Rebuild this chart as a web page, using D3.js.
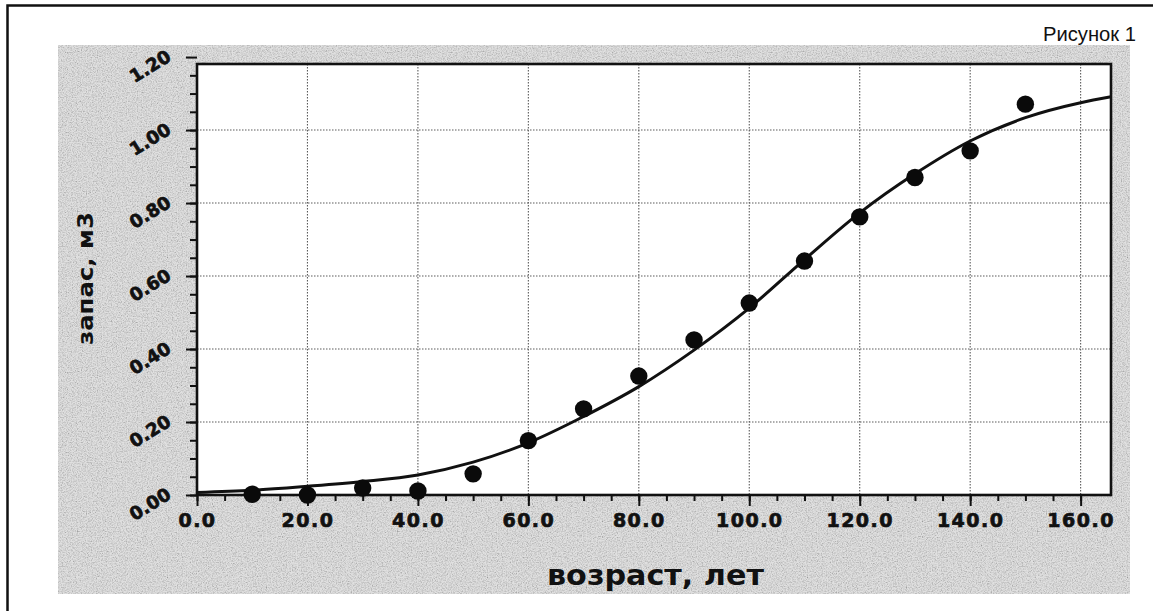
<!DOCTYPE html>
<html>
<head>
<meta charset="utf-8">
<script src="https://cdn.jsdelivr.net/npm/d3@7"></script>
<style>
  body { margin: 0; background: #fff; }
  svg { display: block; }
  .tick text { font-family: "DejaVu Sans", sans-serif; font-weight: bold; }
</style>
</head>
<body>
<div id="chart"></div>
<script>
// data
var ages = [10, 20, 30, 40, 50, 60, 70, 80, 90, 100, 110, 120, 130, 140, 150];
var stock = [0.002, 0.0, 0.019, 0.011, 0.058, 0.149, 0.236, 0.326, 0.425, 0.526, 0.641, 0.762, 0.870, 0.943, 1.071];

// fitted curve, read at 10-year steps
var fitAge = [0, 10, 20, 30, 40, 50, 60, 70, 80, 90, 100, 110, 120, 130, 140, 150, 160, 165.5];
var fitStock = [0.007, 0.013, 0.024, 0.037, 0.055, 0.09, 0.143, 0.215, 0.297, 0.397, 0.512, 0.645, 0.773, 0.88, 0.97, 1.034, 1.075, 1.091];

var xTicks = [0, 20, 40, 60, 80, 100, 120, 140, 160];
var xLabels = ["0.0", "20.0", "40.0", "60.0", "80.0", "100.0", "120.0", "140.0", "160.0"];
var yTicks = [0, 0.2, 0.4, 0.6, 0.8, 1.0, 1.2];
var yLabels = ["0.00", "0.20", "0.40", "0.60", "0.80", "1.00", "1.20"];

var xTitle = "возраст, лет",
  yTitle = "запас, м3",
  figTitle = "Рисунок 1";

// Placement
var W = 1153, H = 611,
  pLeft = 197, pRight = 1111,
  pTop = 64, pBottom = 495;

var x = d3.scaleLinear().domain([0, 165.5]).range([pLeft, pRight]);
var y = d3.scaleLinear().domain([0, 1.181]).range([pBottom, pTop]);

var svg = d3.select("#chart")
  .append("svg")
  .attr("width", W)
  .attr("height", H);

// scanned-paper grain
var defs = svg.append("defs");
var grain = defs.append("filter").attr("id", "grain")
  .attr("x", 0).attr("y", 0).attr("width", 1).attr("height", 1);
grain.append("feTurbulence")
  .attr("type", "fractalNoise")
  .attr("baseFrequency", 0.8)
  .attr("numOctaves", 2)
  .attr("seed", 7)
  .attr("result", "noise");
grain.append("feColorMatrix")
  .attr("in", "noise")
  .attr("type", "matrix")
  .attr("values", "0.55 0.55 0.55 0 0.06  0.55 0.55 0.55 0 0.06  0.55 0.55 0.55 0 0.06  0 0 0 0 1")
  .attr("result", "gray");
grain.append("feBlend")
  .attr("in", "SourceGraphic")
  .attr("in2", "gray")
  .attr("mode", "multiply");

// outer frame (left + top only are visible)
svg.append("path")
  .attr("d", "M7.5,611 V5.5 H1153")
  .attr("fill", "none")
  .attr("stroke", "#111")
  .attr("stroke-width", 2.5);

// grey chart background
svg.append("rect")
  .attr("x", 58).attr("y", 45)
  .attr("width", 1130 - 58).attr("height", 594 - 45)
  .attr("fill", "#e0e0e0")
  .attr("filter", "url(#grain)");

// plot area
svg.append("rect")
  .attr("x", pLeft).attr("y", pTop)
  .attr("width", pRight - pLeft).attr("height", pBottom - pTop)
  .attr("fill", "#fff");

// grid
var grid = svg.append("g")
  .attr("stroke", "#333")
  .attr("stroke-width", 1.1)
  .attr("stroke-dasharray", "1.5,1.5")
  .attr("opacity", 0.8);

grid.selectAll(".vg")
  .data(xTicks.filter(function(d) { return d > 0; }))
  .enter().append("line")
  .attr("x1", function(d) { return x(d); })
  .attr("x2", function(d) { return x(d); })
  .attr("y1", pTop).attr("y2", pBottom);

grid.selectAll(".hg")
  .data(yTicks.filter(function(d) { return d > 0 && d < 1.1; }))
  .enter().append("line")
  .attr("y1", function(d) { return y(d); })
  .attr("y2", function(d) { return y(d); })
  .attr("x1", pLeft).attr("x2", pRight);

// axes
var xAxis = d3.axisBottom(x)
  .tickValues(xTicks)
  .tickSize(11)
  .tickPadding(8)
  .tickFormat(function(d, i) { return xLabels[i]; });

var xMinor = d3.axisBottom(x)
  .tickValues(d3.range(0, 161, 5))
  .tickSize(6)
  .tickFormat("");

var yAxis = d3.axisLeft(y)
  .tickValues(yTicks)
  .tickSize(11)
  .tickFormat("");

var yMinor = d3.axisLeft(y)
  .tickValues(d3.range(0, 1.2, 0.05))
  .tickSize(7)
  .tickFormat("");

svg.append("g")
  .attr("transform", "translate(0," + pBottom + ")")
  .call(xMinor)
  .call(function(g) { g.select(".domain").remove(); })
  .selectAll("line").attr("stroke", "#111").attr("stroke-width", 2);

var gx = svg.append("g")
  .attr("transform", "translate(0," + pBottom + ")")
  .call(xAxis);
gx.select(".domain").remove();
gx.selectAll("line").attr("stroke", "#111").attr("stroke-width", 2);
gx.selectAll("text")
  .attr("fill", "#111")
  .attr("font-size", 19)
  .attr("letter-spacing", 1.5)
  .attr("stroke", "#111")
  .attr("stroke-width", 0.7);

svg.append("g")
  .attr("transform", "translate(" + pLeft + ",0)")
  .call(yMinor)
  .call(function(g) { g.select(".domain").remove(); })
  .selectAll("line").attr("stroke", "#111").attr("stroke-width", 2);

var gy = svg.append("g")
  .attr("transform", "translate(" + pLeft + ",0)")
  .call(yAxis);
gy.select(".domain").remove();
gy.selectAll("line").attr("stroke", "#111").attr("stroke-width", 2);

// rotated y labels
svg.append("g").selectAll("text")
  .data(yTicks)
  .enter().append("text")
  .attr("transform", function(d) { return "translate(150," + (y(d) + 9) + ") rotate(-32)"; })
  .attr("text-anchor", "middle")
  .attr("dy", "0.36em")
  .attr("font-family", "DejaVu Sans, sans-serif")
  .attr("font-weight", "bold")
  .attr("font-size", 18)
  .attr("fill", "#111")
  .attr("stroke", "#111")
  .attr("stroke-width", 0.7)
  .text(function(d, i) { return yLabels[i]; });

// plot frame
svg.append("rect")
  .attr("x", pLeft).attr("y", pTop)
  .attr("width", pRight - pLeft).attr("height", pBottom - pTop)
  .attr("fill", "none")
  .attr("stroke", "#111")
  .attr("stroke-width", 2.6);

// fitted curve
var line = d3.line()
  .x(function(d, i) { return x(fitAge[i]); })
  .y(function(d) { return y(d); })
  .curve(d3.curveMonotoneX);

svg.append("path")
  .datum(fitStock)
  .attr("d", line)
  .attr("fill", "none")
  .attr("stroke", "#111")
  .attr("stroke-width", 3);

// observed points
svg.append("g").selectAll("circle")
  .data(stock)
  .enter().append("circle")
  .attr("cx", function(d, i) { return x(ages[i]); })
  .attr("cy", function(d) { return y(d); })
  .attr("r", 8.7)
  .attr("fill", "#0a0a0a");

// titles
svg.append("text")
  .attr("x", 547).attr("y", 585)
  .attr("textLength", 217)
  .attr("lengthAdjust", "spacingAndGlyphs")
  .attr("font-family", "DejaVu Sans, sans-serif")
  .attr("font-weight", "bold")
  .attr("font-size", 28)
  .attr("fill", "#111")
  .text(xTitle);

svg.append("text")
  .attr("transform", "translate(93,345) rotate(-90)")
  .attr("textLength", 133)
  .attr("lengthAdjust", "spacingAndGlyphs")
  .attr("font-family", "DejaVu Sans, sans-serif")
  .attr("font-weight", "bold")
  .attr("font-size", 22)
  .attr("fill", "#111")
  .text(yTitle);

svg.append("text")
  .attr("x", 1043).attr("y", 41)
  .attr("textLength", 93)
  .attr("lengthAdjust", "spacingAndGlyphs")
  .attr("font-family", "Liberation Sans Narrow, Liberation Sans, sans-serif")
  .attr("font-size", 21)
  .attr("fill", "#111")
  .text(figTitle);
</script>
</body>
</html>
